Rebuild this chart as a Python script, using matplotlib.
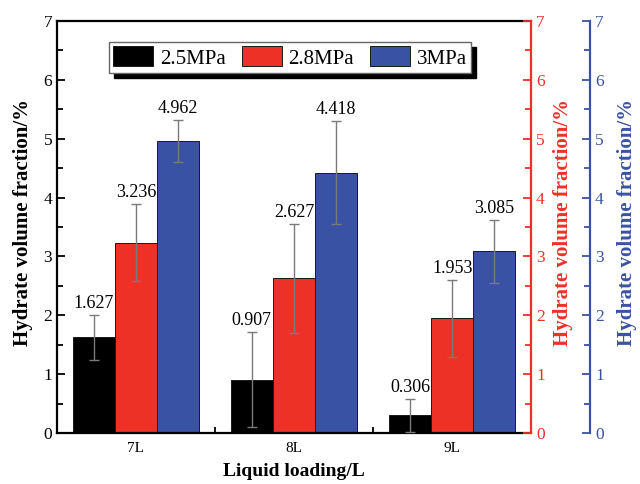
import matplotlib
matplotlib.use('Agg')
import matplotlib.pyplot as plt
import numpy as np
from matplotlib.ticker import MultipleLocator, FixedLocator

plt.rcParams['font.family'] = ['Liberation Serif', 'DejaVu Serif']

categories = ['7L', '8L', '9L']
series = ['2.5MPa', '2.8MPa', '3MPa']
v25 = [1.627, 0.907, 0.306]
v28 = [3.236, 2.627, 1.953]
v30 = [4.962, 4.418, 3.085]
e25 = [0.38, 0.81, 0.28]
e28 = [0.66, 0.93, 0.655]
e30 = [0.36, 0.875, 0.54]

colors = ['#000000', '#EE3127', '#3A52A4']
values = [v25, v28, v30]
errors = [e25, e28, e30]

fig = plt.figure(figsize=(6.4, 4.84), dpi=100)
ax = fig.add_axes([0.089, 0.105, 0.741, 0.852])

x = np.arange(1, len(categories) + 1)
w = 0.267
offsets = [-w, 0, w]
for vals, errs, col, off, lab in zip(values, errors, colors, offsets, series):
    ax.bar(x + off, vals, width=w, color=col, edgecolor='#1a1a1a', linewidth=0.7,
           label=lab, zorder=2)
    eb = ax.errorbar(x + off, vals, yerr=errs, fmt='none', ecolor='#7a7a7a',
                     elinewidth=1.0, capsize=3.8, capthick=1.0, zorder=3)
    for cl in eb[1]:
        cl.set_color('#1c1c3a')
    for xi, v, e in zip(x + off, vals, errs):
        ax.text(xi, v + e + 0.05, f'{v:.3f}', ha='center', va='bottom',
                fontsize=13, zorder=4)

ax.set_xlim(0.5, 3.5)
ax.set_ylim(0, 7)
ax.set_xticks(x)
ax.set_xticklabels(categories, fontsize=11)
ax.xaxis.set_minor_locator(FixedLocator([1.5, 2.5]))
ax.yaxis.set_major_locator(MultipleLocator(1))
ax.yaxis.set_minor_locator(MultipleLocator(0.5))
ax.tick_params(axis='both', which='major', direction='in', length=6, width=1.3,
               labelsize=12.5)
ax.tick_params(axis='x', which='major', labelsize=11, pad=6)
ax.tick_params(axis='both', which='minor', direction='in', length=4, width=1.3)
ax.tick_params(axis='y', which='both', right=False)
for s in ['left', 'top', 'bottom']:
    ax.spines[s].set_linewidth(1.6)
ax.spines['right'].set_visible(False)

ax.set_ylabel('Hydrate volume fraction/%', fontsize=15, fontweight='bold')
ax.yaxis.set_label_coords(-0.051, 0.51)
ax.set_xlabel('Liquid loading/L', fontsize=14, fontweight='bold')
ax.xaxis.set_label_coords(0.5, -0.073)

# red axis
ax2 = ax.twinx()
ax2.set_ylim(0, 7)
ax2.yaxis.set_major_locator(MultipleLocator(1))
ax2.yaxis.set_minor_locator(MultipleLocator(0.5))
for s in ['left', 'top', 'bottom']:
    ax2.spines[s].set_visible(False)
ax2.spines['right'].set_color(colors[1])
ax2.spines['right'].set_linewidth(1.6)
ax2.tick_params(axis='y', which='major', direction='in', length=6, width=1.3,
                colors=colors[1], labelsize=12.5)
ax2.tick_params(axis='y', which='minor', direction='in', length=4, width=1.3,
                colors=colors[1])
ax2.set_ylabel('Hydrate volume fraction/%', fontsize=15, fontweight='bold',
               color=colors[1])
ax2.yaxis.set_label_coords(1.046, 0.51)

# blue axis
ax3 = ax.twinx()
ax3.set_ylim(0, 7)
ax3.yaxis.set_major_locator(MultipleLocator(1))
ax3.yaxis.set_minor_locator(MultipleLocator(0.5))
for s in ['left', 'top', 'bottom']:
    ax3.spines[s].set_visible(False)
ax3.spines['right'].set_position(('axes', 1.1245))
ax3.spines['right'].set_color(colors[2])
ax3.spines['right'].set_linewidth(1.6)
ax3.tick_params(axis='y', which='major', direction='in', length=6, width=1.3,
                colors=colors[2], labelsize=12.5)
ax3.tick_params(axis='y', which='minor', direction='in', length=4, width=1.3,
                colors=colors[2])
ax3.set_ylabel('Hydrate volume fraction/%', fontsize=15, fontweight='bold',
               color=colors[2])
ax3.yaxis.set_label_coords(1.181, 0.51)

leg = ax.legend(loc='upper center', bbox_to_anchor=(0.4916, 0.948), ncol=3,
                fontsize=15, frameon=True, fancybox=False,
                shadow={'ox': 3.5, 'oy': -3.5, 'color': 'black', 'alpha': 1},
                handlelength=1.92, handleheight=1.1, borderaxespad=0,
                columnspacing=0.77, handletextpad=0.32, borderpad=0.2)
leg.get_frame().set_edgecolor('#666666')
leg.get_frame().set_linewidth(1.0)
leg.set_zorder(10)

fig.savefig('out.png', dpi=100)
